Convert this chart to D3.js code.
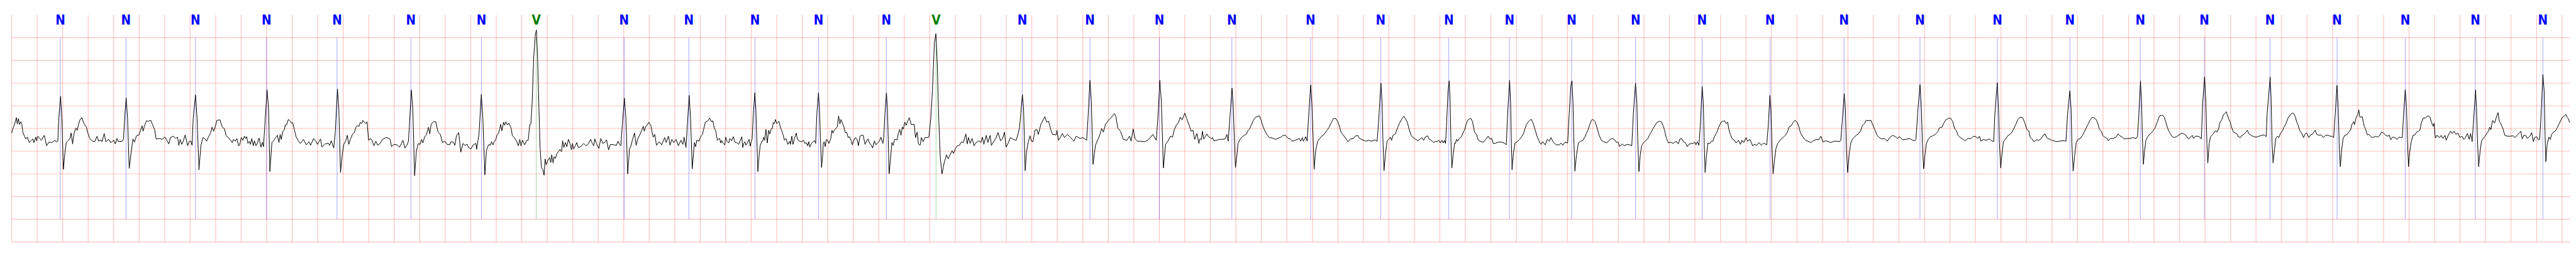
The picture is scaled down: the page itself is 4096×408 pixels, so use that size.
<!DOCTYPE html>
<html><head><meta charset="utf-8">
<script src="https://cdn.jsdelivr.net/npm/d3@7"></script>
<style>html,body{margin:0;padding:0;background:#fff;overflow:hidden}</style>
</head><body>
<svg id="chart" width="4096" height="408"></svg>
<script>
// ---- data ----
const timeDomain = [0, 20.06];          // seconds
const mvDomain = [-2.5, 2.5];           // millivolts
const gridStepSeconds = 0.2;
const gridStepMv = 0.5;
const annotationSpanMv = [-2, 2];

const beatTimes = [0.382,0.897,1.442,1.999,2.552,3.131,3.684,4.114,4.803,5.311,5.829,6.328,6.859,7.249,7.925,8.456,9.001,9.569,10.186,10.736,11.270,11.746,12.233,12.735,13.256,13.790,14.369,14.965,15.572,16.141,16.693,17.195,17.710,18.236,18.770,19.320,19.849];
const beatLabels = ["N","N","N","N","N","N","N","V","N","N","N","N","N","V","N","N","N","N","N","N","N","N","N","N","N","N","N","N","N","N","N","N","N","N","N","N","N"];
const labelColors = {N: "#0000ff", V: "#008000"};

const ecgTrace = [
[0.000,-0.10],[0.011,0.01],[0.023,0.09],[0.037,0.24],[0.044,0.10],[0.054,0.22],[0.061,0.09],[0.073,0.15],[0.080,0.09],[0.088,-0.08],[0.100,-0.17],[0.112,-0.23],[0.122,-0.19],[0.139,-0.31],[0.154,-0.26],[0.166,-0.23],[0.175,-0.31],[0.190,-0.19],[0.196,-0.27],[0.206,-0.17],[0.232,-0.26],[0.256,-0.15],[0.274,-0.38],[0.292,-0.30],[0.316,-0.31],[0.340,-0.26],[0.350,-0.30],[0.362,-0.28],[0.370,0.23],[0.384,0.71],[0.394,0.23],[0.406,-0.90],[0.418,-0.53],[0.428,-0.31],[0.442,-0.27],[0.457,-0.22],[0.467,-0.10],[0.478,-0.34],[0.490,-0.10],[0.504,0.01],[0.514,-0.04],[0.523,0.07],[0.534,0.18],[0.550,0.24],[0.565,0.12],[0.586,0.03],[0.598,-0.10],[0.613,-0.22],[0.634,-0.28],[0.652,-0.29],[0.670,-0.17],[0.682,-0.28],[0.700,-0.25],[0.709,-0.29],[0.726,-0.11],[0.738,-0.29],[0.762,-0.24],[0.777,-0.31],[0.801,-0.26],[0.813,-0.34],[0.825,-0.22],[0.837,-0.29],[0.867,-0.28],[0.877,-0.24],[0.888,0.30],[0.898,0.68],[0.909,0.23],[0.922,-0.88],[0.937,-0.53],[0.951,-0.23],[0.963,-0.30],[0.979,-0.16],[0.999,-0.14],[1.011,-0.04],[1.023,0.06],[1.031,-0.06],[1.041,0.05],[1.057,0.17],[1.071,0.16],[1.091,0.18],[1.107,0.07],[1.121,-0.02],[1.133,-0.23],[1.161,-0.22],[1.179,-0.24],[1.203,-0.19],[1.233,-0.34],[1.245,-0.20],[1.269,-0.17],[1.287,-0.22],[1.301,-0.19],[1.311,-0.37],[1.322,-0.24],[1.334,-0.35],[1.346,-0.28],[1.361,-0.14],[1.380,-0.38],[1.394,-0.28],[1.406,-0.28],[1.415,-0.37],[1.424,0.23],[1.442,0.74],[1.454,0.23],[1.469,-0.91],[1.484,-0.38],[1.500,-0.20],[1.514,-0.22],[1.529,-0.28],[1.541,-0.20],[1.560,-0.10],[1.572,0.03],[1.584,-0.06],[1.596,0.03],[1.610,0.18],[1.634,0.19],[1.652,0.03],[1.670,-0.01],[1.682,-0.16],[1.706,-0.22],[1.730,-0.31],[1.739,-0.24],[1.754,-0.28],[1.766,-0.22],[1.780,-0.38],
[1.787,-0.37],[1.801,-0.20],[1.813,-0.26],[1.825,-0.17],[1.835,-0.22],[1.843,-0.18],[1.853,-0.33],[1.865,-0.28],[1.873,-0.35],[1.883,-0.22],[1.895,-0.38],[1.904,-0.27],[1.916,-0.38],[1.927,-0.33],[1.940,-0.21],[1.955,-0.41],[1.967,-0.30],[1.975,-0.40],[1.985,0.05],[2.003,0.85],[2.015,0.43],[2.025,-0.95],[2.041,-0.31],[2.057,-0.26],[2.071,-0.20],[2.084,-0.15],[2.096,-0.31],[2.106,-0.13],[2.114,-0.24],[2.126,-0.07],[2.138,-0.03],[2.146,0.08],[2.156,0.08],[2.170,0.20],[2.185,0.16],[2.194,0.12],[2.204,0.13],[2.216,-0.01],[2.230,-0.18],[2.248,-0.27],[2.264,-0.33],[2.288,-0.24],[2.311,-0.36],[2.332,-0.29],[2.344,-0.37],[2.368,-0.22],[2.386,-0.28],[2.398,-0.35],[2.422,-0.23],[2.434,-0.41],[2.458,-0.34],[2.482,-0.32],[2.494,-0.37],[2.506,-0.27],[2.526,-0.43],[2.538,-0.08],[2.555,0.87],[2.566,0.43],[2.579,-0.97],[2.592,-0.59],[2.605,-0.35],[2.620,-0.27],[2.632,-0.15],[2.644,-0.35],[2.658,-0.23],[2.674,-0.12],[2.688,-0.09],[2.701,0.04],[2.709,0.06],[2.724,0.05],[2.733,0.13],[2.745,0.11],[2.755,0.18],[2.767,0.13],[2.777,0.11],[2.787,0.15],[2.799,-0.26],[2.815,-0.22],[2.827,-0.27],[2.841,-0.38],[2.856,-0.28],[2.871,-0.37],[2.889,-0.33],[2.911,-0.23],[2.937,-0.20],[2.951,-0.21],[2.967,-0.23],[2.979,-0.40],[2.997,-0.35],[3.021,-0.36],[3.041,-0.41],[3.057,-0.33],[3.069,-0.26],[3.084,-0.43],[3.099,-0.37],[3.111,-0.29],[3.119,0.05],[3.134,0.85],[3.146,0.43],[3.160,-1.04],[3.174,-0.50],[3.189,-0.33],[3.203,-0.35],[3.215,-0.24],[3.225,-0.32],[3.239,-0.18],[3.251,-0.15],[3.269,0.03],[3.279,-0.12],[3.290,0.10],[3.308,0.15],[3.326,0.15],[3.344,-0.08],[3.362,-0.13],[3.378,-0.31],[3.398,-0.28],[3.414,-0.35],[3.434,-0.36],[3.446,-0.29],[3.464,-0.30],[3.476,-0.37],[3.488,-0.16],[3.506,-0.09],[3.522,-0.52],[3.539,-0.33],[3.554,-0.37],[3.572,-0.35],[3.584,-0.42],[3.602,-0.45],[3.620,-0.36],[3.641,-0.33],[3.646,-0.46],[3.656,-0.28],
[3.665,-0.13],[3.683,0.75],[3.695,0.23],[3.711,-1.02],[3.723,-0.49],[3.734,-0.40],[3.743,-0.35],[3.755,-0.37],[3.763,-0.29],[3.775,-0.36],[3.785,-0.29],[3.797,-0.24],[3.806,-0.15],[3.818,-0.10],[3.827,-0.02],[3.835,0.09],[3.845,-0.05],[3.857,0.14],[3.866,0.07],[3.875,0.15],[3.887,0.08],[3.899,0.12],[3.917,0.01],[3.926,-0.15],[3.941,-0.20],[3.959,-0.28],[3.974,-0.38],[3.985,-0.24],[3.994,-0.38],[4.006,-0.26],[4.024,-0.36],[4.039,-0.26],[4.051,-0.26],[4.063,0.09],[4.072,0.10],[4.082,0.59],[4.094,1.57],[4.106,2.05],[4.115,2.17],[4.124,1.60],[4.135,0.45],[4.144,-0.42],[4.154,-0.85],[4.166,-0.91],[4.175,-1.03],[4.184,-0.67],[4.192,-0.80],[4.204,-0.71],[4.218,-0.64],[4.228,-0.75],[4.235,-0.58],[4.246,-0.76],[4.254,-0.62],[4.264,-0.66],[4.276,-0.55],[4.288,-0.51],[4.300,-0.46],[4.312,-0.51],[4.321,-0.27],[4.330,-0.42],[4.342,-0.31],[4.354,-0.40],[4.366,-0.24],[4.380,-0.34],[4.390,-0.47],[4.398,-0.33],[4.408,-0.45],[4.420,-0.38],[4.432,-0.31],[4.444,-0.42],[4.462,-0.40],[4.486,-0.33],[4.504,-0.38],[4.522,-0.34],[4.540,-0.24],[4.552,-0.32],[4.564,-0.38],[4.573,-0.23],[4.587,-0.34],[4.605,-0.44],[4.620,-0.22],[4.635,-0.33],[4.653,-0.30],[4.665,-0.25],[4.681,-0.47],[4.695,-0.35],[4.719,-0.36],[4.743,-0.37],[4.755,-0.28],[4.767,-0.35],[4.777,-0.38],[4.789,0.09],[4.805,0.67],[4.817,0.23],[4.831,-1.00],[4.845,-0.46],[4.857,-0.38],[4.869,-0.24],[4.885,-0.10],[4.897,-0.37],[4.911,-0.22],[4.929,-0.12],[4.941,-0.04],[4.953,0.05],[4.961,-0.06],[4.973,0.05],[4.983,0.07],[4.997,0.14],[5.013,0.06],[5.022,-0.08],[5.031,-0.19],[5.043,-0.13],[5.057,-0.37],[5.079,-0.29],[5.097,-0.36],[5.121,-0.20],[5.133,-0.31],[5.151,-0.17],[5.163,-0.37],[5.177,-0.24],[5.192,-0.31],[5.210,-0.24],[5.228,-0.38],[5.249,-0.26],[5.264,-0.35],[5.273,-0.19],[5.288,-0.42],[5.297,-0.02],[5.313,0.73],[5.324,0.23],[5.337,-0.89],[5.354,-0.31],[5.364,-0.40],[5.372,-0.26],[5.390,-0.28],[5.405,-0.17],[5.417,-0.13],[5.428,0.00],[5.440,0.14],[5.456,0.16],[5.474,0.23],[5.486,0.15],[5.498,0.17],[5.510,0.01],[5.522,-0.06],[5.534,-0.26],
[5.543,-0.23],[5.552,-0.22],[5.561,-0.32],[5.568,-0.26],[5.577,-0.32],[5.592,-0.36],[5.599,-0.19],[5.610,-0.28],[5.623,-0.32],[5.632,-0.22],[5.646,-0.27],[5.659,-0.18],[5.673,-0.31],[5.686,-0.31],[5.702,-0.35],[5.713,-0.27],[5.726,-0.18],[5.733,-0.42],[5.741,-0.33],[5.751,-0.29],[5.758,-0.37],[5.771,-0.31],[5.783,-0.24],[5.792,-0.39],[5.800,-0.28],[5.807,-0.23],[5.816,0.31],[5.828,0.79],[5.836,0.43],[5.843,-0.20],[5.852,-0.95],[5.861,-0.61],[5.870,-0.38],[5.881,-0.29],[5.890,-0.28],[5.897,-0.19],[5.905,-0.26],[5.915,-0.02],[5.926,-0.32],[5.936,-0.04],[5.945,-0.12],[5.956,-0.01],[5.965,0.00],[5.972,0.13],[5.981,0.11],[5.990,0.20],[5.999,0.11],[6.008,0.13],[6.017,0.16],[6.030,0.01],[6.039,-0.05],[6.051,-0.15],[6.060,-0.26],[6.072,-0.22],[6.088,-0.35],[6.102,-0.28],[6.108,-0.35],[6.118,-0.17],[6.127,-0.35],[6.138,-0.23],[6.153,-0.10],[6.162,-0.24],[6.178,-0.28],[6.196,-0.29],[6.209,-0.26],[6.221,-0.33],[6.231,-0.31],[6.242,-0.38],[6.251,-0.29],[6.258,-0.41],[6.272,-0.33],[6.285,-0.29],[6.298,-0.27],[6.305,-0.33],[6.314,0.31],[6.327,0.79],[6.335,0.43],[6.342,-0.20],[6.351,-0.86],[6.360,-0.59],[6.365,-0.31],[6.373,-0.29],[6.380,-0.40],[6.389,-0.24],[6.399,-0.26],[6.408,-0.33],[6.424,-0.22],[6.433,-0.04],[6.441,-0.10],[6.450,-0.04],[6.464,0.00],[6.475,0.04],[6.485,0.28],[6.495,0.10],[6.504,0.20],[6.516,0.11],[6.526,0.04],[6.537,-0.09],[6.549,-0.09],[6.560,-0.20],[6.571,-0.18],[6.584,-0.27],[6.593,-0.36],[6.602,-0.27],[6.616,-0.20],[6.629,-0.23],[6.641,-0.38],[6.652,-0.17],[6.665,-0.15],[6.678,-0.15],[6.692,-0.35],[6.705,-0.27],[6.716,-0.23],[6.728,-0.33],[6.741,-0.36],[6.752,-0.43],[6.766,-0.27],[6.777,-0.36],[6.793,-0.31],[6.805,-0.28],[6.817,-0.19],[6.832,-0.33],[6.839,-0.20],[6.848,0.31],[6.860,0.79],[6.868,0.43],[6.881,-1.00],
[6.893,-0.64],[6.903,-0.31],[6.913,-0.37],[6.924,-0.24],[6.944,-0.25],[6.954,-0.10],[6.965,-0.02],[6.974,-0.15],[6.985,0.03],[6.993,-0.01],[7.004,0.14],[7.016,0.07],[7.027,0.16],[7.039,0.24],[7.054,0.09],[7.078,0.09],[7.088,-0.20],[7.101,-0.08],[7.111,-0.34],[7.124,-0.37],[7.134,-0.20],[7.147,-0.29],[7.162,-0.20],[7.178,-0.20],[7.193,-0.19],[7.208,0.23],[7.221,0.84],[7.236,1.89],[7.248,2.09],[7.259,1.39],[7.270,0.23],[7.282,-0.64],[7.296,-1.00],[7.304,-0.89],[7.313,-0.75],[7.332,-0.58],[7.344,-0.67],[7.355,-0.60],[7.375,-0.49],[7.386,-0.55],[7.401,-0.44],[7.416,-0.38],[7.432,-0.37],[7.447,-0.30],[7.463,-0.31],[7.483,-0.12],[7.493,-0.34],[7.504,-0.20],[7.516,-0.33],[7.532,-0.22],[7.547,-0.38],[7.563,-0.31],[7.586,-0.27],[7.601,-0.31],[7.613,-0.19],[7.624,-0.35],[7.643,-0.15],[7.655,-0.31],[7.673,-0.15],[7.683,-0.37],[7.701,-0.29],[7.717,-0.22],[7.735,-0.09],[7.755,-0.27],[7.771,-0.22],[7.786,-0.08],[7.798,-0.41],[7.817,-0.31],[7.832,-0.20],[7.855,-0.24],[7.878,-0.26],[7.894,-0.10],[7.904,0.03],[7.914,0.34],[7.926,0.75],[7.935,0.48],[7.948,-0.93],[7.958,-0.53],[7.971,-0.31],[7.986,-0.16],[7.997,-0.28],[8.009,-0.29],[8.025,-0.04],[8.040,-0.02],[8.051,-0.13],[8.071,0.09],[8.102,0.26],[8.117,0.14],[8.132,0.16],[8.148,-0.02],[8.163,-0.13],[8.191,-0.14],[8.197,-0.04],[8.209,-0.26],[8.225,-0.19],[8.240,-0.11],[8.256,-0.20],[8.279,-0.13],[8.302,-0.19],[8.330,-0.28],[8.348,-0.17],[8.379,-0.22],[8.402,-0.20],[8.430,-0.26],[8.440,0.19],[8.456,1.06],[8.467,0.59],[8.480,-0.79],[8.499,-0.37],[8.514,-0.27],[8.530,-0.17],[8.548,0.00],[8.561,-0.08],[8.579,0.10],[8.602,0.18],[8.625,0.25],[8.648,0.33],[8.659,0.27],[8.674,0.01],[8.695,-0.06],[8.718,-0.24],[8.745,-0.26],[8.767,-0.17],[8.779,-0.28],[8.795,-0.01],[8.810,-0.23],[8.828,-0.28],[8.856,-0.28],[8.887,-0.29],[8.918,-0.24],[8.949,-0.13],[8.976,-0.26],[8.989,0.23],[9.004,1.06],[9.016,0.59],[9.032,-0.87],[9.049,-0.35],[9.069,-0.27],[9.087,-0.17],[9.103,-0.19],[9.118,-0.02],[9.133,0.07],[9.152,0.14],[9.164,0.25],[9.179,0.19],[9.200,0.34],[9.218,0.19],[9.234,0.07],[9.249,-0.06],[9.264,-0.04],[9.277,-0.24],[9.295,-0.11],
[9.300,-0.18],[9.310,-0.33],[9.318,-0.23],[9.330,-0.24],[9.338,-0.06],[9.348,-0.23],[9.358,-0.19],[9.372,-0.12],[9.386,-0.18],[9.398,-0.20],[9.408,-0.23],[9.416,-0.20],[9.429,-0.27],[9.450,-0.26],[9.468,-0.24],[9.492,-0.24],[9.516,-0.23],[9.530,-0.13],[9.540,-0.28],[9.552,0.18],[9.570,0.89],[9.579,0.51],[9.588,-0.20],[9.597,-0.86],[9.607,-0.64],[9.617,-0.33],[9.633,-0.24],[9.647,-0.19],[9.665,-0.15],[9.681,-0.13],[9.695,-0.05],[9.710,0.00],[9.722,0.08],[9.737,0.18],[9.755,0.25],[9.770,0.26],[9.785,0.28],[9.797,0.19],[9.809,0.08],[9.827,-0.05],[9.845,-0.14],[9.863,-0.20],[9.887,-0.21],[9.911,-0.24],[9.935,-0.21],[9.953,-0.19],[9.971,-0.15],[9.989,-0.15],[10.007,-0.21],[10.025,-0.23],[10.045,-0.28],[10.067,-0.26],[10.097,-0.22],[10.109,-0.28],[10.121,-0.20],[10.129,-0.28],[10.148,-0.18],[10.159,-0.28],[10.169,0.18],[10.187,0.96],[10.196,0.56],[10.206,-0.20],[10.214,-0.90],[10.225,-0.51],[10.240,-0.29],[10.258,-0.22],[10.273,-0.17],[10.292,-0.13],[10.312,-0.05],[10.330,0.02],[10.348,0.13],[10.366,0.22],[10.384,0.22],[10.400,0.15],[10.414,0.03],[10.426,-0.09],[10.444,-0.15],[10.462,-0.22],[10.480,-0.29],[10.498,-0.23],[10.522,-0.22],[10.536,-0.17],[10.555,-0.15],[10.570,-0.22],[10.594,-0.25],[10.618,-0.28],[10.642,-0.26],[10.666,-0.28],[10.690,-0.25],[10.708,-0.28],[10.720,0.18],[10.738,1.00],[10.747,0.56],[10.753,-0.20],[10.762,-0.93],[10.774,-0.54],[10.786,-0.28],[10.798,-0.24],[10.812,-0.19],[10.821,-0.26],[10.833,-0.15],[10.851,-0.12],[10.869,0.02],[10.884,0.12],[10.899,0.20],[10.917,0.27],[10.929,0.22],[10.944,0.15],[10.959,-0.02],[10.975,-0.15],[10.989,-0.20],[11.007,-0.23],[11.025,-0.27],[11.043,-0.24],[11.059,-0.20],[11.073,-0.26],[11.085,-0.19],[11.103,-0.16],[11.115,-0.23],[11.133,-0.26],[11.151,-0.31],[11.169,-0.28],
[11.178,-0.29],[11.192,-0.26],[11.204,-0.32],[11.216,-0.26],[11.226,-0.32],[11.236,-0.26],[11.244,-0.33],[11.252,0.05],[11.264,0.82],[11.273,1.05],[11.281,0.56],[11.286,-0.20],[11.294,-0.87],[11.304,-0.59],[11.316,-0.32],[11.322,-0.33],[11.331,-0.24],[11.340,-0.28],[11.352,-0.22],[11.364,-0.20],[11.372,-0.16],[11.384,-0.08],[11.394,-0.03],[11.406,0.09],[11.418,0.18],[11.430,0.21],[11.444,0.22],[11.456,0.15],[11.472,-0.08],[11.487,-0.13],[11.501,-0.26],[11.523,-0.29],[11.541,-0.30],[11.559,-0.24],[11.579,-0.17],[11.591,-0.23],[11.607,-0.22],[11.619,-0.33],[11.633,-0.33],[11.657,-0.30],[11.681,-0.30],[11.705,-0.32],[11.721,-0.36],[11.731,0.31],[11.747,1.06],[11.755,0.56],[11.760,-0.20],[11.766,-0.91],[11.777,-0.54],[11.789,-0.32],[11.807,-0.29],[11.825,-0.24],[11.839,-0.19],[11.855,-0.12],[11.867,-0.01],[11.879,0.09],[11.894,0.15],[11.909,0.19],[11.918,0.20],[11.933,0.10],[11.945,-0.01],[11.963,-0.18],[11.978,-0.28],[11.993,-0.35],[12.007,-0.29],[12.026,-0.36],[12.043,-0.24],[12.059,-0.28],[12.071,-0.20],[12.089,-0.30],[12.112,-0.36],[12.136,-0.36],[12.151,-0.32],[12.163,-0.37],[12.182,-0.30],[12.202,-0.32],[12.214,0.31],[12.227,0.94],[12.236,1.05],[12.244,0.56],[12.250,-0.20],[12.259,-0.94],[12.271,-0.59],[12.286,-0.32],[12.304,-0.28],[12.322,-0.26],[12.338,-0.18],[12.350,-0.10],[12.362,-0.03],[12.376,0.09],[12.388,0.18],[12.400,0.20],[12.418,0.15],[12.434,0.00],[12.448,-0.14],[12.466,-0.26],[12.484,-0.29],[12.508,-0.32],[12.532,-0.25],[12.550,-0.22],[12.568,-0.24],[12.582,-0.30],[12.598,-0.30],[12.610,-0.40],[12.628,-0.34],[12.646,-0.38],[12.670,-0.35],[12.687,-0.36],[12.705,-0.38],[12.717,0.31],[12.734,1.00],[12.745,0.56],[12.751,-0.20],[12.761,-0.95],[12.771,-0.59],[12.783,-0.37],[12.798,-0.31],[12.813,-0.27],[12.829,-0.23],[12.843,-0.15],[12.858,-0.08],[12.870,-0.01],[12.885,0.06],[12.901,0.13],[12.921,0.16],[12.937,0.15],[12.951,0.06],[12.963,-0.05],[12.975,-0.20],[12.993,-0.32],[13.011,-0.30],[13.029,-0.33],[13.047,-0.29],
[13.056,-0.29],[13.070,-0.34],[13.082,-0.23],[13.098,-0.23],[13.110,-0.29],[13.125,-0.31],[13.140,-0.40],[13.152,-0.35],[13.170,-0.33],[13.188,-0.33],[13.200,-0.30],[13.208,-0.36],[13.218,-0.29],[13.232,-0.37],[13.242,0.05],[13.257,0.93],[13.266,0.56],[13.272,-0.20],[13.280,-0.97],[13.291,-0.59],[13.302,-0.32],[13.317,-0.33],[13.329,-0.28],[13.341,-0.28],[13.353,-0.18],[13.365,-0.12],[13.377,-0.05],[13.385,0.02],[13.397,0.09],[13.409,0.15],[13.421,0.16],[13.433,0.17],[13.445,0.11],[13.457,0.14],[13.466,-0.02],[13.478,-0.13],[13.493,-0.23],[13.511,-0.26],[13.523,-0.32],[13.541,-0.26],[13.557,-0.35],[13.569,-0.26],[13.583,-0.31],[13.601,-0.20],[13.613,-0.28],[13.631,-0.24],[13.653,-0.38],[13.667,-0.35],[13.685,-0.37],[13.703,-0.31],[13.721,-0.37],[13.739,-0.32],[13.763,-0.36],[13.775,0.05],[13.788,0.73],[13.796,0.43],[13.805,-0.46],[13.813,-1.00],[13.823,-0.72],[13.835,-0.45],[13.849,-0.33],[13.865,-0.27],[13.880,-0.22],[13.895,-0.19],[13.909,-0.15],[13.925,-0.08],[13.940,0.04],[13.955,0.06],[13.969,0.13],[13.984,0.18],[14.002,0.14],[14.014,0.05],[14.026,-0.08],[14.044,-0.18],[14.068,-0.26],[14.086,-0.28],[14.110,-0.31],[14.128,-0.27],[14.152,-0.24],[14.170,-0.25],[14.188,-0.17],[14.206,-0.30],[14.224,-0.27],[14.248,-0.29],[14.266,-0.31],[14.290,-0.28],[14.314,-0.28],[14.335,-0.29],[14.344,-0.26],[14.356,0.18],[14.371,0.77],[14.380,0.43],[14.388,-0.46],[14.398,-0.97],[14.410,-0.56],[14.422,-0.32],[14.436,-0.23],[14.448,-0.20],[14.464,-0.15],[14.482,-0.12],[14.500,-0.05],[14.512,0.06],[14.530,0.11],[14.542,0.18],[14.559,0.17],[14.580,0.18],[14.595,0.08],[14.613,-0.04],[14.628,-0.15],[14.643,-0.19],[14.661,-0.23],[14.685,-0.22],[14.709,-0.28],[14.727,-0.20],[14.751,-0.15],[14.772,-0.18],[14.787,-0.22],[14.805,-0.18],[14.829,-0.25],[14.853,-0.24],[14.883,-0.22],[14.907,-0.26],[14.925,-0.27],
[14.934,-0.23],[14.946,0.31],[14.965,0.97],[14.976,0.43],[14.984,-0.33],[14.994,-0.89],[15.003,-0.61],[15.015,-0.33],[15.030,-0.24],[15.048,-0.18],[15.066,-0.16],[15.084,-0.13],[15.102,-0.08],[15.120,0.02],[15.138,0.03],[15.150,0.11],[15.168,0.19],[15.186,0.22],[15.204,0.23],[15.222,0.15],[15.236,0.00],[15.251,-0.05],[15.263,-0.15],[15.281,-0.20],[15.299,-0.23],[15.320,-0.27],[15.341,-0.22],[15.365,-0.22],[15.383,-0.17],[15.401,-0.18],[15.419,-0.22],[15.431,-0.17],[15.443,-0.28],[15.461,-0.24],[15.485,-0.26],[15.509,-0.23],[15.527,-0.27],[15.543,-0.29],[15.552,0.31],[15.571,1.01],[15.581,0.43],[15.588,-0.33],[15.598,-0.87],[15.607,-0.59],[15.619,-0.29],[15.635,-0.24],[15.653,-0.16],[15.671,-0.13],[15.686,-0.08],[15.701,0.00],[15.715,0.08],[15.731,0.19],[15.751,0.25],[15.769,0.24],[15.785,0.14],[15.803,-0.02],[15.818,-0.05],[15.830,-0.20],[15.844,-0.23],[15.859,-0.29],[15.880,-0.25],[15.898,-0.26],[15.916,-0.22],[15.934,-0.14],[15.946,-0.12],[15.958,-0.20],[15.976,-0.23],[16.000,-0.26],[16.024,-0.28],[16.048,-0.29],[16.072,-0.27],[16.096,-0.27],[16.110,-0.28],[16.122,0.31],[16.140,0.83],[16.150,0.43],[16.156,-0.33],[16.166,-0.94],[16.178,-0.59],[16.190,-0.31],[16.204,-0.24],[16.222,-0.22],[16.240,-0.15],[16.252,-0.08],[16.266,0.00],[16.282,0.09],[16.300,0.19],[16.314,0.24],[16.330,0.24],[16.348,0.19],[16.360,0.11],[16.372,-0.02],[16.386,-0.06],[16.398,-0.15],[16.414,-0.19],[16.432,-0.22],[16.441,-0.27],[16.458,-0.22],[16.479,-0.22],[16.503,-0.19],[16.518,-0.12],[16.533,-0.16],[16.551,-0.19],[16.569,-0.23],[16.587,-0.22],[16.611,-0.22],[16.635,-0.20],[16.659,-0.22],[16.671,-0.17],[16.681,0.31],[16.694,1.05],[16.703,0.56],[16.709,-0.20],[16.717,-0.79],[16.726,-0.49],[16.737,-0.26],[16.749,-0.19],[16.761,-0.14],[16.779,-0.10],[16.793,-0.05],[16.803,-0.01],
[16.812,0.03],[16.820,0.11],[16.827,0.15],[16.835,0.22],[16.845,0.28],[16.855,0.29],[16.868,0.29],[16.882,0.24],[16.894,0.13],[16.904,0.03],[16.915,-0.05],[16.925,-0.10],[16.940,-0.17],[16.956,-0.20],[16.976,-0.18],[16.997,-0.14],[17.017,-0.10],[17.033,-0.12],[17.048,-0.14],[17.069,-0.23],[17.084,-0.20],[17.100,-0.15],[17.110,-0.22],[17.125,-0.17],[17.141,-0.17],[17.156,-0.18],[17.171,-0.23],[17.182,0.56],[17.197,1.14],[17.207,0.56],[17.215,-0.33],[17.222,-0.76],[17.233,-0.33],[17.243,-0.18],[17.254,-0.15],[17.264,-0.12],[17.282,-0.05],[17.295,-0.08],[17.307,0.00],[17.317,0.13],[17.331,0.19],[17.346,0.31],[17.356,0.33],[17.367,0.37],[17.377,0.29],[17.387,0.20],[17.397,0.15],[17.408,0.03],[17.423,-0.08],[17.438,-0.10],[17.454,-0.13],[17.461,-0.18],[17.478,-0.20],[17.490,-0.15],[17.505,-0.13],[17.521,-0.08],[17.531,-0.04],[17.546,-0.12],[17.562,-0.15],[17.582,-0.18],[17.603,-0.19],[17.623,-0.17],[17.644,-0.15],[17.664,-0.14],[17.680,-0.18],[17.687,0.31],[17.711,1.14],[17.718,0.69],[17.726,-0.33],[17.734,-0.76],[17.745,-0.46],[17.755,-0.22],[17.767,-0.17],[17.779,-0.20],[17.793,-0.10],[17.808,-0.05],[17.818,0.02],[17.834,0.10],[17.849,0.22],[17.865,0.29],[17.882,0.34],[17.895,0.33],[17.909,0.25],[17.919,0.15],[17.929,0.08],[17.942,-0.04],[17.957,-0.10],[17.973,-0.20],[17.983,-0.13],[17.998,-0.10],[18.014,-0.20],[18.029,-0.14],[18.044,-0.12],[18.063,-0.04],[18.077,-0.13],[18.096,-0.15],[18.111,-0.14],[18.127,-0.20],[18.147,-0.15],[18.163,-0.15],[18.183,-0.17],[18.198,-0.17],[18.209,-0.20],[18.221,0.31],[18.235,0.95],[18.245,0.43],[18.252,-0.33],[18.261,-0.84],[18.272,-0.46],[18.283,-0.22],[18.296,-0.15],[18.311,-0.14],[18.327,-0.08],[18.342,-0.03],[18.352,0.09],[18.365,0.15],[18.373,0.09],[18.383,0.22],[18.399,0.32],[18.406,0.41],[18.414,0.25],
[18.422,0.25],[18.433,0.26],[18.441,0.14],[18.449,0.05],[18.459,-0.01],[18.473,-0.14],[18.486,-0.13],[18.497,-0.17],[18.509,-0.20],[18.523,-0.19],[18.539,-0.17],[18.555,-0.19],[18.571,-0.15],[18.584,-0.08],[18.598,-0.10],[18.614,-0.14],[18.630,-0.17],[18.646,-0.15],[18.656,-0.25],[18.672,-0.19],[18.688,-0.20],[18.707,-0.24],[18.720,-0.19],[18.736,-0.20],[18.747,-0.20],[18.755,0.19],[18.770,0.86],[18.780,0.48],[18.787,-0.24],[18.796,-0.84],[18.805,-0.53],[18.818,-0.28],[18.832,-0.15],[18.846,-0.14],[18.859,-0.08],[18.875,-0.06],[18.885,-0.04],[18.896,0.12],[18.912,0.23],[18.928,0.23],[18.947,0.28],[18.963,0.26],[18.976,0.14],[18.989,0.05],[18.997,0.12],[19.006,-0.21],[19.018,-0.15],[19.040,-0.20],[19.052,-0.15],[19.066,-0.22],[19.082,-0.15],[19.091,-0.26],[19.104,-0.17],[19.125,-0.06],[19.138,-0.11],[19.152,-0.06],[19.168,-0.13],[19.183,-0.10],[19.199,-0.20],[19.215,-0.17],[19.229,-0.24],[19.242,-0.20],[19.258,-0.11],[19.272,-0.24],[19.283,-0.11],[19.295,-0.29],[19.304,0.09],[19.322,0.85],[19.329,0.45],[19.338,-0.35],[19.346,-0.84],[19.357,-0.51],[19.368,-0.28],[19.381,-0.22],[19.396,-0.17],[19.410,-0.11],[19.423,-0.06],[19.432,0.03],[19.442,-0.03],[19.455,0.18],[19.471,0.12],[19.485,0.25],[19.498,0.35],[19.508,0.16],[19.519,0.11],[19.535,0.01],[19.551,-0.15],[19.572,-0.17],[19.594,-0.17],[19.615,-0.16],[19.631,-0.20],[19.647,-0.15],[19.660,-0.11],[19.677,-0.06],[19.687,-0.23],[19.700,-0.15],[19.713,-0.15],[19.727,-0.22],[19.748,-0.17],[19.762,-0.09],[19.775,-0.29],[19.785,-0.20],[19.801,-0.18],[19.812,-0.24],[19.824,-0.24],[19.834,0.23],[19.850,1.19],[19.860,0.81],[19.866,-0.06],[19.873,-0.73],[19.883,-0.35],[19.897,-0.19],[19.908,-0.24],[19.918,-0.13],[19.932,-0.08],[19.947,-0.06],[19.961,0.01],[19.977,0.10],[19.990,0.18],[20.004,0.25],[20.020,0.28],[20.030,0.31],[20.041,0.24],[20.051,0.21],[20.059,0.13]
];

// ---- layout ----
const W = 4096, H = 408;
const margin = {left: 18.5, right: W - 4086, top: 23.9, bottom: H - 384.1};

const svg = d3.select("#chart");
svg.append("rect").attr("width", W).attr("height", H).attr("fill", "#fff");

const x = d3.scaleLinear().domain(timeDomain).range([margin.left, W - margin.right]);
const y = d3.scaleLinear().domain(mvDomain).range([H - margin.bottom, margin.top]);

const vTicks = d3.range(timeDomain[0], timeDomain[1] + 1e-9, gridStepSeconds);
const hTicks = d3.range(mvDomain[0], mvDomain[1] - 1e-9, gridStepMv);

const grid = svg.append("g").attr("stroke", "#ff0000").attr("stroke-opacity", 0.25).attr("stroke-width", 1.15);
grid.selectAll("line.v").data(vTicks).join("line")
  .attr("x1", d => x(d)).attr("x2", d => x(d))
  .attr("y1", y(mvDomain[1])).attr("y2", y(mvDomain[0]));
grid.selectAll("line.h").data(hTicks).join("line")
  .attr("x1", x(timeDomain[0])).attr("x2", x(timeDomain[1]))
  .attr("y1", d => y(d)).attr("y2", d => y(d));

const beats = beatTimes.map((t, i) => ({t, label: beatLabels[i]}));

svg.append("g").selectAll("line").data(beats).join("line")
  .attr("x1", d => x(d.t)).attr("x2", d => x(d.t))
  .attr("y1", y(annotationSpanMv[1])).attr("y2", y(annotationSpanMv[0]))
  .attr("stroke", d => labelColors[d.label]).attr("stroke-opacity", 0.5).attr("stroke-width", 0.7);

const line = d3.line().x(d => x(d[0])).y(d => y(d[1]));
svg.append("path").datum(ecgTrace).attr("d", line)
  .attr("fill", "none").attr("stroke", "#000").attr("stroke-width", 1.0).attr("stroke-linejoin", "round");

svg.append("g").selectAll("text").data(beats).join("text")
  .attr("x", d => x(d.t)).attr("y", margin.top + 15.1)
  .attr("text-anchor", "middle")
  .attr("fill", d => labelColors[d.label])
  .style("font-family", "'DejaVu Sans Condensed', 'DejaVu Sans', sans-serif")
  .style("font-stretch", "condensed")
  .style("font-weight", "bold")
  .style("font-size", "20.7px")
  .text(d => d.label);
</script>
</body></html>
